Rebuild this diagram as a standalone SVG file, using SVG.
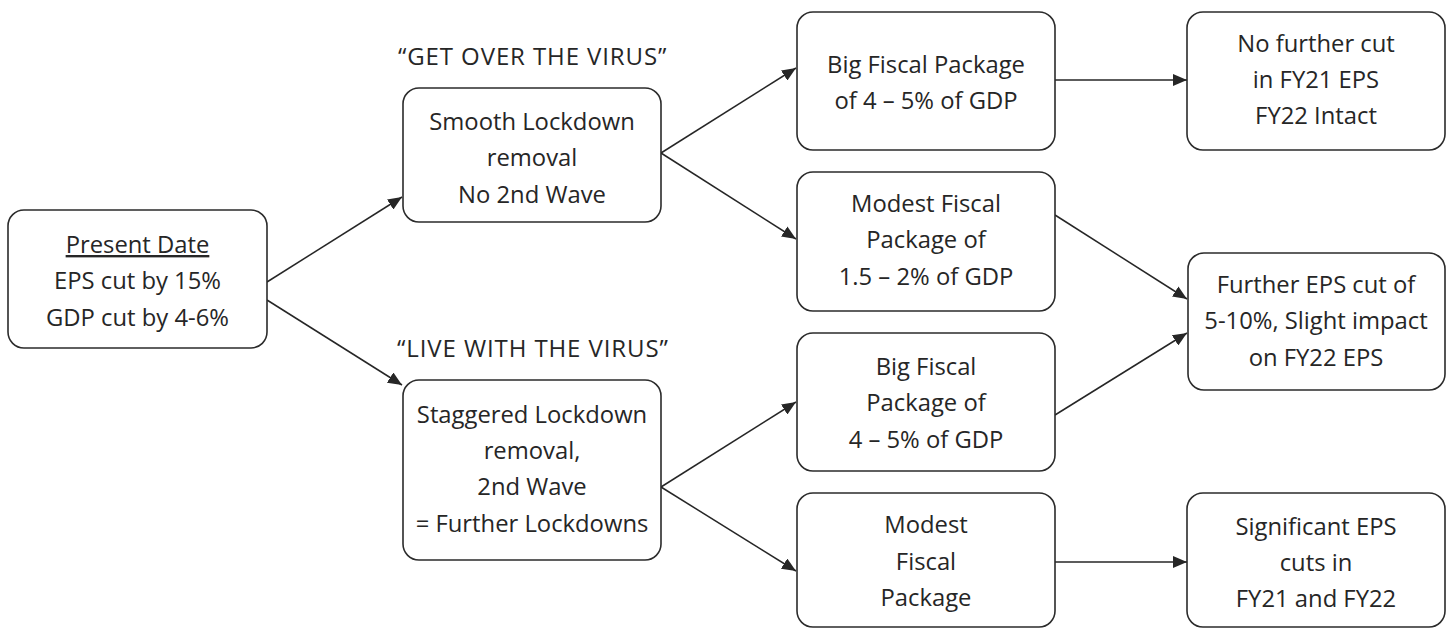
<svg xmlns="http://www.w3.org/2000/svg" width="1451" height="628" viewBox="0 0 1451 628">
<style>
.box{fill:#fff;stroke:#2b2b2b;stroke-width:1.6}
.t{font-family:"Open Sans","Noto Sans","Liberation Sans",sans-serif;font-size:23.8px;fill:#262626;text-anchor:middle}
.lbl{font-family:"Open Sans","Noto Sans","Liberation Sans",sans-serif;font-size:24px;letter-spacing:0.9px;fill:#262626;text-anchor:start}
.c{stroke:#262626;stroke-width:1.5;fill:none;marker-end:url(#ah)}
</style>
<defs>
<marker id="ah" markerUnits="userSpaceOnUse" markerWidth="14" markerHeight="12" refX="14" refY="6" orient="auto">
<path d="M0,0 L14,6 L0,12 Z" fill="#262626"/>
</marker>
</defs>
<rect width="1451" height="628" fill="#fff"/>
<g id="connectors">
<line class="c" x1="267" y1="282" x2="402" y2="197"/>
<line class="c" x1="267" y1="300" x2="402" y2="385"/>
<line class="c" x1="661" y1="153" x2="796" y2="68"/>
<line class="c" x1="661" y1="153" x2="796" y2="239"/>
<line class="c" x1="661" y1="487" x2="796" y2="402"/>
<line class="c" x1="661" y1="487" x2="796" y2="571"/>
<line class="c" x1="1055" y1="80" x2="1187" y2="80"/>
<line class="c" x1="1055" y1="215" x2="1187" y2="299"/>
<line class="c" x1="1055" y1="415" x2="1187" y2="333"/>
<line class="c" x1="1055" y1="562" x2="1187" y2="562"/>
</g>
<g id="label-get-over">
<text class="lbl" x="398" y="65">“GET OVER THE VIRUS”</text>
</g>
<g id="label-live-with">
<text class="lbl" x="397" y="357">“LIVE WITH THE VIRUS”</text>
</g>
<g id="present-date">
<rect class="box" x="8" y="210" width="259" height="138" rx="16"/>
<text class="t" x="137.5" y="253" text-decoration="underline">Present Date</text>
<text class="t" x="137.5" y="289">EPS cut by 15%</text>
<text class="t" x="137.5" y="326">GDP cut by 4-6%</text>
</g>
<g id="smooth-lockdown">
<rect class="box" x="403" y="88" width="258" height="134" rx="16"/>
<text class="t" x="532" y="130">Smooth Lockdown</text>
<text class="t" x="532" y="166">removal</text>
<text class="t" x="532" y="203">No 2nd Wave</text>
</g>
<g id="staggered-lockdown">
<rect class="box" x="403" y="380" width="258" height="180" rx="16"/>
<text class="t" x="532" y="423">Staggered Lockdown</text>
<text class="t" x="532" y="459">removal,</text>
<text class="t" x="532" y="495">2nd Wave</text>
<text class="t" x="532" y="532">= Further Lockdowns</text>
</g>
<g id="big-fiscal-1">
<rect class="box" x="797" y="12" width="258" height="138" rx="16"/>
<text class="t" x="926" y="73">Big Fiscal Package</text>
<text class="t" x="926" y="109">of 4 – 5% of GDP</text>
</g>
<g id="modest-fiscal-1">
<rect class="box" x="797" y="172" width="258" height="139" rx="16"/>
<text class="t" x="926" y="212">Modest Fiscal</text>
<text class="t" x="926" y="248">Package of</text>
<text class="t" x="926" y="285">1.5 – 2% of GDP</text>
</g>
<g id="big-fiscal-2">
<rect class="box" x="797" y="333" width="258" height="138" rx="16"/>
<text class="t" x="926" y="375">Big Fiscal</text>
<text class="t" x="926" y="411">Package of</text>
<text class="t" x="926" y="448">4 – 5% of GDP</text>
</g>
<g id="modest-fiscal-2">
<rect class="box" x="797" y="493" width="258" height="134" rx="16"/>
<text class="t" x="926" y="533">Modest</text>
<text class="t" x="926" y="570">Fiscal</text>
<text class="t" x="926" y="606">Package</text>
</g>
<g id="no-further-cut">
<rect class="box" x="1187" y="12" width="258" height="138" rx="16"/>
<text class="t" x="1316" y="52">No further cut</text>
<text class="t" x="1316" y="88">in FY21 EPS</text>
<text class="t" x="1316" y="124">FY22 Intact</text>
</g>
<g id="further-eps-cut">
<rect class="box" x="1188" y="253" width="257" height="137" rx="16"/>
<text class="t" x="1316" y="293">Further EPS cut of</text>
<text class="t" x="1316" y="329">5-10%, Slight impact</text>
<text class="t" x="1316" y="366">on FY22 EPS</text>
</g>
<g id="significant-eps">
<rect class="box" x="1187" y="493" width="258" height="134" rx="16"/>
<text class="t" x="1316" y="535">Significant EPS</text>
<text class="t" x="1316" y="571">cuts in</text>
<text class="t" x="1316" y="607">FY21 and FY22</text>
</g>
</svg>
